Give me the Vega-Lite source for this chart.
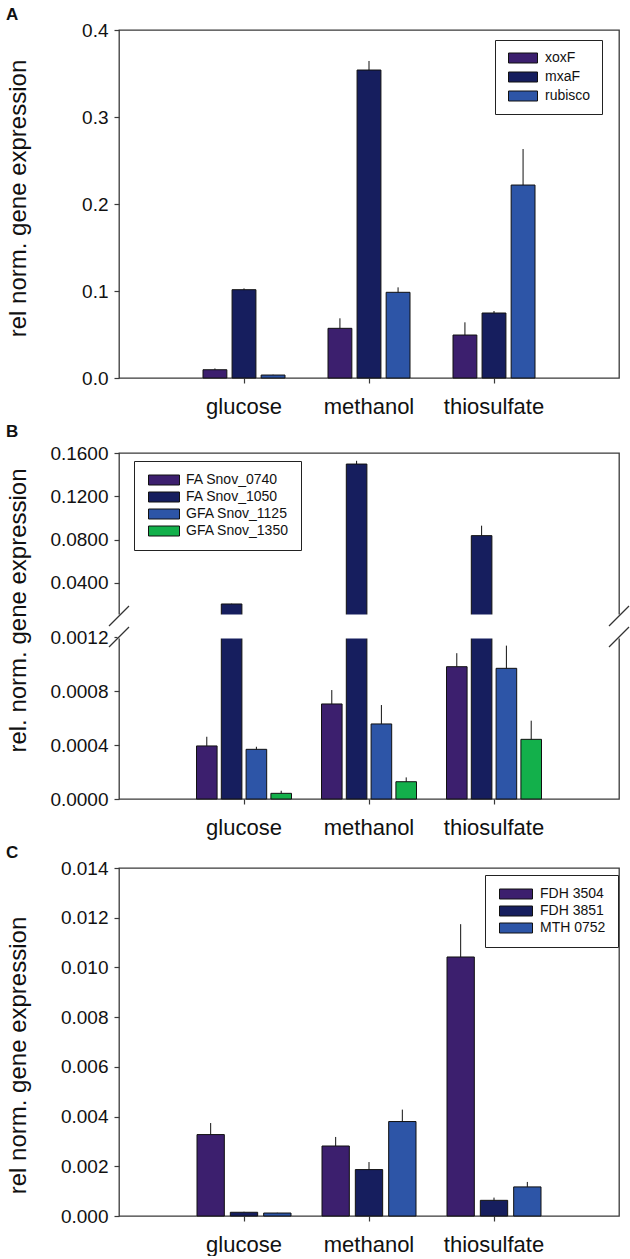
{
  "$schema": "https://vega.github.io/schema/vega-lite/v6.json",
  "background": "white",
  "padding": {"left": 5, "top": 5, "right": 5, "bottom": 0},
  "spacing": 4,
  "datasets": {
    "a": [
      {"cond": "glucose", "gene": "xoxF", "value": 0.0095, "upper": 0.011},
      {"cond": "glucose", "gene": "mxaF", "value": 0.1015, "upper": 0.103},
      {"cond": "glucose", "gene": "rubisco", "value": 0.0034, "upper": 0.0038},
      {"cond": "methanol", "gene": "xoxF", "value": 0.0571, "upper": 0.0686},
      {"cond": "methanol", "gene": "mxaF", "value": 0.354, "upper": 0.3644},
      {"cond": "methanol", "gene": "rubisco", "value": 0.0985, "upper": 0.1042},
      {"cond": "thiosulfate", "gene": "xoxF", "value": 0.0494, "upper": 0.064},
      {"cond": "thiosulfate", "gene": "mxaF", "value": 0.0747, "upper": 0.077},
      {"cond": "thiosulfate", "gene": "rubisco", "value": 0.2218, "upper": 0.2632}
    ],
    "b": [
      {"cond": "glucose", "gene": "FA Snov_0740", "value": 0.000393, "upper": 0.000461},
      {"cond": "glucose", "gene": "FA Snov_1050", "value": 0.0206, "upper": 0.0209},
      {"cond": "glucose", "gene": "GFA Snov_1125", "value": 0.000368, "upper": 0.000387},
      {"cond": "glucose", "gene": "GFA Snov_1350", "value": 0.000042, "upper": 0.000061},
      {"cond": "methanol", "gene": "FA Snov_0740", "value": 0.000704, "upper": 0.000807},
      {"cond": "methanol", "gene": "FA Snov_1050", "value": 0.1498, "upper": 0.1528},
      {"cond": "methanol", "gene": "GFA Snov_1125", "value": 0.000556, "upper": 0.000696},
      {"cond": "methanol", "gene": "GFA Snov_1350", "value": 0.000128, "upper": 0.00016},
      {"cond": "thiosulfate", "gene": "FA Snov_0740", "value": 0.00098, "upper": 0.00108},
      {"cond": "thiosulfate", "gene": "FA Snov_1050", "value": 0.0837, "upper": 0.0929},
      {"cond": "thiosulfate", "gene": "GFA Snov_1125", "value": 0.000968, "upper": 0.001136},
      {"cond": "thiosulfate", "gene": "GFA Snov_1350", "value": 0.000442, "upper": 0.00058}
    ],
    "c": [
      {"cond": "glucose", "gene": "FDH 3504", "value": 0.003275, "upper": 0.00374},
      {"cond": "glucose", "gene": "FDH 3851", "value": 0.00015, "upper": 0.00017},
      {"cond": "glucose", "gene": "MTH 0752", "value": 0.00012, "upper": 0.00013},
      {"cond": "methanol", "gene": "FDH 3504", "value": 0.002816, "upper": 0.00318},
      {"cond": "methanol", "gene": "FDH 3851", "value": 0.001867, "upper": 0.00217},
      {"cond": "methanol", "gene": "MTH 0752", "value": 0.0038, "upper": 0.00428},
      {"cond": "thiosulfate", "gene": "FDH 3504", "value": 0.01042, "upper": 0.01174},
      {"cond": "thiosulfate", "gene": "FDH 3851", "value": 0.00063, "upper": 0.00074},
      {"cond": "thiosulfate", "gene": "MTH 0752", "value": 0.00117, "upper": 0.00137}
    ],
    "gap": [
      {"value": 0.0012, "upper": 0.0095}
    ],
    "breaks": [
      {"side": 0, "value": 0.0095},
      {"side": 1, "value": 0.0095},
      {"side": 0, "value": 0.0012},
      {"side": 1, "value": 0.0012}
    ]
  },
  "config": {
    "font": "Liberation Sans",
    "view": {"stroke": "#3a3a3a", "strokeWidth": 1.3},
    "axis": {
      "labelFont": "Liberation Sans",
      "titleFont": "Liberation Sans",
      "labelColor": "#111",
      "titleColor": "#111",
      "tickColor": "#3a3a3a",
      "tickSize": 5,
      "tickWidth": 1.2,
      "domain": false,
      "grid": false,
      "titleFontWeight": "normal"
    },
    "axisX": {"labelFontSize": 22, "labelAngle": 0, "labelPadding": 13},
    "axisY": {"labelFontSize": 19, "titleFontSize": 24, "labelPadding": 6, "titleX": -101, "titleBaseline": "middle", "titleAngle": -90},
    "title": {"fontSize": 17, "fontWeight": "bold", "anchor": "start", "frame": "bounds", "color": "#111", "font": "Liberation Sans"},
    "legend": {
      "labelFont": "Liberation Sans",
      "labelFontSize": 14,
      "labelColor": "#111",
      "strokeColor": "#222",
      "fillColor": "white",
      "symbolStrokeColor": "#111",
      "symbolStrokeWidth": 1,
      "symbolOpacity": 1,
      "symbolSize": 100,
      "symbolOffset": 10,
      "orient": "none"
    }
  },
  "resolve": {"scale": {"color": "independent", "x": "independent", "xOffset": "independent", "y": "independent"}, "legend": {"color": "independent"}},
  "vconcat": [
    {
      "title": {"text": "A", "offset": -3},
      "width": 500,
      "height": 348,
      "data": {"name": "a"},
      "encoding": {
        "x": {"field": "cond", "type": "nominal", "sort": ["glucose", "methanol", "thiosulfate"], "scale": {"type": "band", "paddingInner": 0.344, "paddingOuter": 0.672}, "axis": {"title": null}},
        "xOffset": {"field": "gene", "type": "nominal", "sort": ["xoxF", "mxaF", "rubisco"], "scale": {"type": "band", "paddingInner": 0.18, "paddingOuter": 0}},
        "y": {"field": "value", "type": "quantitative", "scale": {"domain": [0, 0.4], "nice": false}, "axis": {"values": [0, 0.1, 0.2, 0.3, 0.4], "format": ".1f", "title": "rel norm. gene expression", "titleY": 168}}
      },
      "layer": [
        {
          "mark": {"type": "bar", "stroke": "#111", "strokeWidth": 1},
          "encoding": {
            "color": {"field": "gene", "type": "nominal", "scale": {"domain": ["xoxF", "mxaF", "rubisco"], "range": ["#3c1f6e", "#161e5e", "#2d55a7"]},
              "legend": {"title": null, "legendX": 376, "legendY": 10, "symbolType": "M-2.9,-1L2.9,-1L2.9,1L-2.9,1Z", "labelOffset": 15, "rowPadding": 5, "padding": 11}}
          }
        },
        {
          "mark": {"type": "rule", "color": "#111", "strokeWidth": 1},
          "encoding": {"y2": {"field": "upper"}}
        }
      ]
    },
    {
      "title": {"text": "B", "offset": 3},
      "width": 500,
      "height": 346,
      "encoding": {
        "y": {"field": "value", "type": "quantitative", "scale": {"domain": [0, 0.0012, 0.0095, 0.16], "range": [346, 184, 163, 0], "nice": false, "zero": false}, "axis": {"values": [0, 0.0004, 0.0008, 0.0012, 0.04, 0.08, 0.12, 0.16], "format": ".4f", "title": "rel. norm. gene expression", "titleY": 157}}
      },
      "layer": [
        {
          "data": {"name": "b"},
          "encoding": {
            "x": {"field": "cond", "type": "nominal", "sort": ["glucose", "methanol", "thiosulfate"], "scale": {"type": "band", "paddingInner": 0.24, "paddingOuter": 0.62}, "axis": {"title": null}},
            "xOffset": {"field": "gene", "type": "nominal", "sort": ["FA Snov_0740", "FA Snov_1050", "GFA Snov_1125", "GFA Snov_1350"], "scale": {"type": "band", "paddingInner": 0.17, "paddingOuter": 0}}
          },
          "layer": [
            {
              "mark": {"type": "bar", "stroke": "#111", "strokeWidth": 1},
              "encoding": {
                "color": {"field": "gene", "type": "nominal", "scale": {"domain": ["FA Snov_0740", "FA Snov_1050", "GFA Snov_1125", "GFA Snov_1350"], "range": ["#3c1f6e", "#161e5e", "#2d55a7", "#13b04b"]},
                  "legend": {"title": null, "legendX": 15, "legendY": 8, "symbolType": "M-3.1,-1L3.1,-1L3.1,1L-3.1,1Z", "symbolOffset": 11, "labelOffset": 15, "rowPadding": 3, "padding": 12}}
              }
            },
            {
              "mark": {"type": "rule", "color": "#111", "strokeWidth": 1},
              "encoding": {"y2": {"field": "upper"}}
            }
          ]
        },
        {
          "data": {"name": "gap"},
          "mark": {"type": "rect", "fill": "white", "stroke": "white", "strokeWidth": 3},
          "encoding": {"y2": {"field": "upper"}}
        },
        {
          "data": {"name": "breaks"},
          "mark": {"type": "point", "shape": "M-1,1L1,-1", "size": 400, "filled": false, "stroke": "#333", "strokeWidth": 1.2, "opacity": 1},
          "encoding": {
            "x": {"field": "side", "type": "quantitative", "scale": {"domain": [0, 1], "nice": false, "zero": false}, "axis": null}
          }
        }
      ],
      "resolve": {"scale": {"x": "independent"}}
    },
    {
      "title": {"text": "C", "offset": -3},
      "width": 500,
      "height": 348,
      "data": {"name": "c"},
      "encoding": {
        "x": {"field": "cond", "type": "nominal", "sort": ["glucose", "methanol", "thiosulfate"], "scale": {"type": "band", "paddingInner": 0.248, "paddingOuter": 0.624}, "axis": {"title": null}},
        "xOffset": {"field": "gene", "type": "nominal", "sort": ["FDH 3504", "FDH 3851", "MTH 0752"], "scale": {"type": "band", "paddingInner": 0.18, "paddingOuter": 0}},
        "y": {"field": "value", "type": "quantitative", "scale": {"domain": [0, 0.014], "nice": false}, "axis": {"values": [0, 0.002, 0.004, 0.006, 0.008, 0.01, 0.012, 0.014], "format": ".3f", "title": "rel norm. gene expression", "titleY": 187}}
      },
      "layer": [
        {
          "mark": {"type": "bar", "stroke": "#111", "strokeWidth": 1},
          "encoding": {
            "color": {"field": "gene", "type": "nominal", "scale": {"domain": ["FDH 3504", "FDH 3851", "MTH 0752"], "range": ["#3c1f6e", "#161e5e", "#2d55a7"]},
              "legend": {"title": null, "legendX": 366, "legendY": 7, "symbolType": "M-3.3,-1L3.3,-1L3.3,1L-3.3,1Z", "symbolOffset": 12, "labelOffset": 17, "rowPadding": 3, "padding": 12}}
          }
        },
        {
          "mark": {"type": "rule", "color": "#111", "strokeWidth": 1},
          "encoding": {"y2": {"field": "upper"}}
        }
      ]
    }
  ]
}
